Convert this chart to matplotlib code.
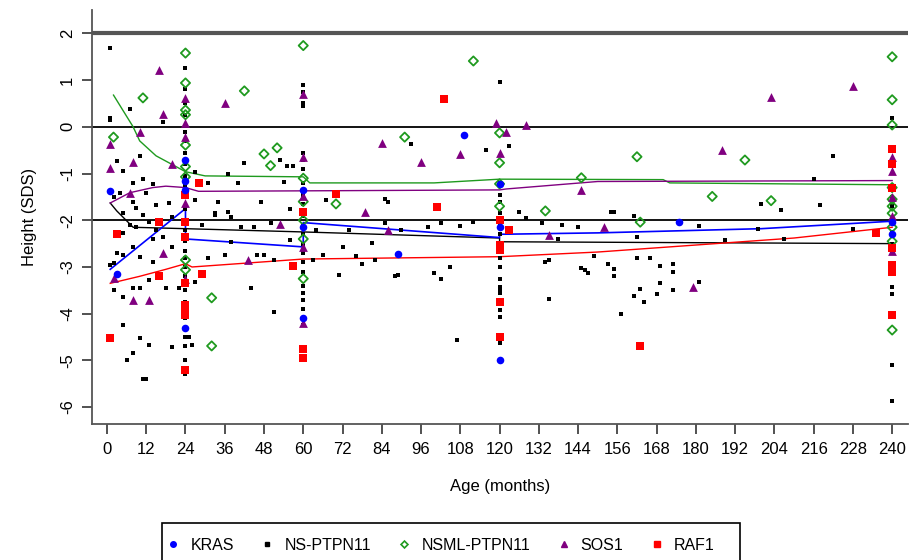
import matplotlib
matplotlib.use('Agg')
import matplotlib.pyplot as plt
from matplotlib.lines import Line2D
from matplotlib.patches import Rectangle

plt.rcParams['font.family'] = ['Liberation Sans', 'DejaVu Sans']

# ---- data (age in months, height SDS) ----
kras_age = [1, 3, 24, 24, 24, 24, 60, 60, 60, 89, 109, 120, 120, 120, 175, 240, 240]
kras_sds = [-1.37, -3.15, -0.7, -1.15, -1.35, -4.3, -1.35, -2.14, -4.1, -2.72, -0.17,
            -1.22, -2.14, -5.0, -2.04, -2.03, -2.3]

ns_age = [1, 7, 1, 17, 3, 10, 5, 11, 8, 14, 4, 8, 15, 19, 11, 5, 13, 20, 7, 9, 5, 8, 3, 5,
          10, 14, 2, 20, 14, 13, 18, 22, 8, 10, 2, 5, 5, 10, 13, 20, 8, 6, 11, 12, 1, 2, 12,
          17, 15, 9, 1,
          27, 27, 34, 37, 40, 42, 53, 55, 57, 54, 56, 38, 33, 29, 33, 37, 41, 45, 38, 46, 48,
          51, 56, 31, 36, 27, 44, 51, 25, 26, 50, 47, 31,
          67, 85, 86, 98, 102, 108, 112, 116, 123, 93, 72, 81, 76, 82, 78, 66, 63, 71, 89,
          100, 102, 105, 74, 88, 107, 85, 90, 64,
          126, 128, 133, 139, 144, 155, 161, 162, 138, 149, 134, 162, 166, 153, 155, 155, 146,
          147, 169, 173, 173, 169, 163, 168, 173, 161, 164, 181, 157, 135, 181, 189, 199, 206,
          200, 218, 216, 222, 228, 207, 145, 135, 154,
          24, 24, 24, 24, 24, 24, 24, 24, 24, 24, 24, 24, 24, 24, 24, 24, 24, 24, 24, 24, 24,
          24, 24, 24, 24, 24, 24,
          60, 60, 60, 60, 60, 60, 60, 60, 60, 60, 60, 60, 60, 60, 60, 60, 60, 60, 60, 60, 60,
          60,
          120, 120, 120, 120, 120, 120, 120, 120, 120, 120, 120, 120, 120, 120, 120, 120,
          120, 120, 120,
          240, 240, 240, 240, 240, 240, 240, 240, 240, 240, 240, 240, 240, 240]
ns_sds = [1.69, 0.38, 0.15, 0.1, -0.73, -0.62, -0.94, -1.11, -1.2, -1.22, -1.41, -1.6, -1.67,
          -1.63, -1.88, -1.85, -2.03, -1.93, -2.1, -2.14, -2.28, -2.57, -2.7, -2.74, -2.78,
          -2.89, -2.92, -2.57, -2.4, -3.28, -3.45, -3.45, -3.45, -3.45, -3.49, -3.64, -4.24,
          -4.52, -4.67, -4.71, -4.84, -4.99, -5.4, -5.4, -2.95, -1.5, -1.41, -2.35, -2.2,
          -1.74, 0.19,
          -0.96, -1.56, -1.6, -1.0, -1.2, -0.77, -0.71, -0.84, -0.84, -1.18, -1.76, -1.93,
          -1.84, -2.1, -1.88, -1.82, -2.14, -2.14, -2.46, -2.74, -2.74, -2.85, -2.42, -2.8,
          -2.74, -3.32, -3.45, -3.96, -4.5, -4.67, -2.05, -1.6, -1.2,
          -1.56, -1.55, -1.6, -2.14, -2.06, -2.12, -2.03, -0.49, -0.41, -0.36, -2.57, -2.49,
          -2.76, -2.85, -2.93, -2.74, -2.85, -3.17, -3.17, -3.13, -3.26, -3.0, -2.2, -3.19,
          -4.56, -2.06, -2.2, -2.2,
          -1.83, -1.96, -2.06, -2.1, -2.14, -1.83, -1.91, -2.36, -2.4, -2.77, -2.89, -2.81,
          -2.81, -2.93, -3.04, -3.19, -3.06, -3.13, -2.98, -2.93, -3.1, -3.34, -3.47, -3.58,
          -3.49, -3.62, -3.75, -3.32, -4.0, -3.68, -2.12, -2.42, -2.18, -1.78, -1.65, -1.67,
          -1.11, -0.62, -2.18, -2.4, -3.02, -2.85, -1.82,
          1.26, 0.8, 0.5, 0.25, -0.1, -0.3, -0.55, -0.8, -1.05, -1.25, -1.5, -1.75, -2.0,
          -2.2, -2.45, -2.65, -2.8, -3.0, -3.2, -3.5, -3.75, -4.1, -4.3, -4.5, -4.7, -5.0,
          -5.3,
          0.9, 0.75, 0.5, 0.45, -0.55, -0.7, -0.9, -1.2, -1.45, -1.65, -1.9, -2.1, -2.3, -2.5,
          -2.7, -2.9, -3.1, -3.4, -3.55, -3.7, -3.9, -4.25,
          0.96, -1.2, -1.46, -1.6, -1.85, -2.1, -2.3, -2.5, -2.81, -3.0, -3.25, -3.42, -3.51,
          -3.55, -3.8, -3.92, -4.07, -4.5, -4.62,
          0.2, -1.3, -1.5, -1.7, -2.0, -2.25, -2.5, -2.7, -2.95, -3.13, -3.43, -3.58, -5.1,
          -5.87]

nsml_age = [2, 11, 24, 24, 24, 24, 24, 24, 24, 24, 24, 42, 32, 32, 48, 52, 50, 60, 60, 60,
            60, 60, 60, 70, 91, 112, 120, 120, 120, 120, 134, 145, 162, 163, 185, 195, 203,
            240, 240, 240, 240, 240, 240, 240, 240, 240, 240]
nsml_sds = [-0.22, 0.62, 1.58, 0.94, 0.36, 0.26, -0.39, -0.85, -1.07, -2.85, -3.06, 0.77,
            -3.66, -4.69, -0.58, -0.45, -0.83, 1.74, -1.1, -1.6, -2.0, -2.4, -3.25, -1.65,
            -0.22, 1.41, -0.13, -0.77, -1.22, -1.7, -1.8, -1.09, -0.64, -2.04, -1.49, -0.71,
            -1.58, 1.5, 0.58, 0.04, -1.3, -1.55, -1.7, -1.85, -2.15, -2.45, -4.35]

sos1_age = [16, 17, 10, 1, 8, 1, 20, 36, 60, 7, 24, 24, 24, 24, 24, 17, 2, 8, 13, 43, 53,
            60, 60, 60, 60, 84, 96, 79, 86, 108, 119, 122, 120, 128, 145, 152, 135, 179, 188,
            203, 228, 240, 240, 240, 240, 240]
sos1_sds = [1.22, 0.28, -0.1, -0.37, -0.75, -0.88, -0.8, 0.51, 0.71, -1.41, 0.62, 0.09,
            -0.21, -1.63, -3.26, -2.7, -3.23, -3.7, -3.7, -2.85, -2.08, -0.64, -1.47, -2.57,
            -4.2, -0.34, -0.75, -1.82, -2.2, -0.58, 0.09, -0.11, -0.56, 0.04, -1.35, -2.14,
            -2.32, -3.42, -0.49, 0.64, 0.88, -0.64, -0.95, -1.5, -1.9, -2.65]

raf1_age = [3, 1, 16, 16, 28, 29, 24, 24, 24, 24, 24, 24, 24, 24, 60, 60, 60, 57, 70, 101,
            103, 120, 123, 120, 120, 120, 120, 163, 235, 240, 240, 240, 240, 240, 240, 240]
raf1_sds = [-2.29, -4.52, -3.19, -2.03, -1.2, -3.15, -1.46, -2.03, -2.35, -3.34, -3.81,
            -3.92, -4.02, -5.2, -1.82, -4.75, -4.95, -2.97, -1.43, -1.71, 0.6, -1.99, -2.2,
            -2.53, -2.63, -3.75, -4.5, -4.69, -2.27, -0.47, -0.8, -1.3, -2.6, -2.95, -3.1,
            -4.03]

# fitted mean curves per group
kras_fit_age = [1, 24, 24, 60, 60, 120, 120, 150, 200, 240]
kras_fit_sds = [-3.05, -1.75, -2.4, -2.57, -2.05, -2.37, -2.3, -2.27, -2.18, -2.02]
ns_fit_age = [1, 3, 8, 24, 60, 120, 120, 240]
ns_fit_sds = [-1.63, -1.8, -2.15, -2.18, -2.25, -2.38, -2.46, -2.5]
nsml_fit_age = [2, 8, 10, 15, 24, 30, 60, 62, 100, 120, 170, 172, 240]
nsml_fit_sds = [0.68, 0.0, -0.3, -0.62, -0.96, -1.05, -1.07, -1.2, -1.2, -1.12, -1.13, -1.2,
                -1.24]
sos1_fit_age = [1, 7, 14, 18, 24, 28, 60, 120, 122, 150, 240]
sos1_fit_sds = [-1.63, -1.41, -1.3, -1.27, -1.3, -1.38, -1.37, -1.35, -1.33, -1.17, -1.15]
raf1_fit_age = [1, 10, 18, 24, 26, 60, 120, 150, 180, 210, 240]
raf1_fit_sds = [-3.35, -3.2, -3.05, -2.93, -3.0, -2.83, -2.78, -2.68, -2.53, -2.38, -2.15]

xticks = list(range(0, 241, 12))
yticks = [-6, -5, -4, -3, -2, -1, 0, 1, 2]

BLUE = '#0000ff'
GREEN = '#1f9a1f'
PURPLE = '#800080'
RED = '#ff0000'

fig = plt.figure(figsize=(9.1, 5.6), dpi=100)
ax = fig.add_axes([0.101, 0.243, 0.897, 0.739])

ax.axhline(2, color='#555555', lw=3, zorder=1)
ax.axhline(0, color='black', lw=1.3, zorder=1)
ax.axhline(-2, color='black', lw=1.3, zorder=1)

ax.scatter(ns_age, ns_sds, marker='s', s=7, color='black', lw=0, zorder=3)
ax.scatter(nsml_age, nsml_sds, marker='D', s=22, facecolors='none', edgecolors=GREEN,
           linewidths=1.3, zorder=3)
ax.scatter(sos1_age, sos1_sds, marker='^', s=40, color=PURPLE, lw=0, zorder=3)
ax.scatter(raf1_age, raf1_sds, marker='s', s=34, color=RED, lw=0, zorder=3)
ax.scatter(kras_age, kras_sds, marker='o', s=30, color=BLUE, lw=0, zorder=3)

ax.plot(ns_fit_age, ns_fit_sds, color='black', lw=1, zorder=2)
ax.plot(nsml_fit_age, nsml_fit_sds, color=GREEN, lw=1, zorder=2)
ax.plot(sos1_fit_age, sos1_fit_sds, color=PURPLE, lw=1, zorder=2)
ax.plot(raf1_fit_age, raf1_fit_sds, color=RED, lw=1, zorder=2)
ax.plot(kras_fit_age, kras_fit_sds, color=BLUE, lw=1.2, zorder=2)

ax.set_xlim(-4.6, 244.9)
ax.set_ylim(-6.36, 2.5)
ax.set_xticks(xticks)
ax.set_yticks(yticks)
ax.set_yticklabels([str(v) for v in yticks], rotation=90, va='center')
ax.tick_params(axis='both', length=7, width=1.2, color='#333333', labelsize=12)
ax.tick_params(axis='x', pad=6)
ax.tick_params(axis='y', pad=5)
for side in ['top', 'right']:
    ax.spines[side].set_visible(False)
for side in ['left', 'bottom']:
    ax.spines[side].set_color('#555555')
    ax.spines[side].set_linewidth(1.3)

ax.set_xlabel('Age (months)', fontsize=12, labelpad=16)
ax.set_ylabel('Height (SDS)', fontsize=12, labelpad=17)

handles = [
    Line2D([], [], ls='', marker='o', ms=4, color=BLUE),
    Line2D([], [], ls='', marker='s', ms=2.5, color='black'),
    Line2D([], [], ls='', marker='D', ms=3.5, mfc='none', mec=GREEN, mew=1.2),
    Line2D([], [], ls='', marker='^', ms=4, color=PURPLE),
    Line2D([], [], ls='', marker='s', ms=4, color=RED),
]
labels = ['KRAS', 'NS-PTPN11', 'NSML-PTPN11', 'SOS1', 'RAF1']
fig.legend(handles, labels, loc='center left', bbox_to_anchor=(167 / 910, 1 - 545 / 560),
           ncol=5, frameon=False, fontsize=11.5, handlelength=0.8, handletextpad=0.66,
           columnspacing=1.7, borderpad=0, borderaxespad=0)
# legend box (runs off the bottom edge as in the original)
fig.patches.append(Rectangle((162 / 910, -0.05), (740 - 162) / 910, 0.05 + (560 - 523) / 560,
                             transform=fig.transFigure, fill=False, edgecolor='black',
                             lw=1.2))

fig.savefig('out.png', dpi=100)
